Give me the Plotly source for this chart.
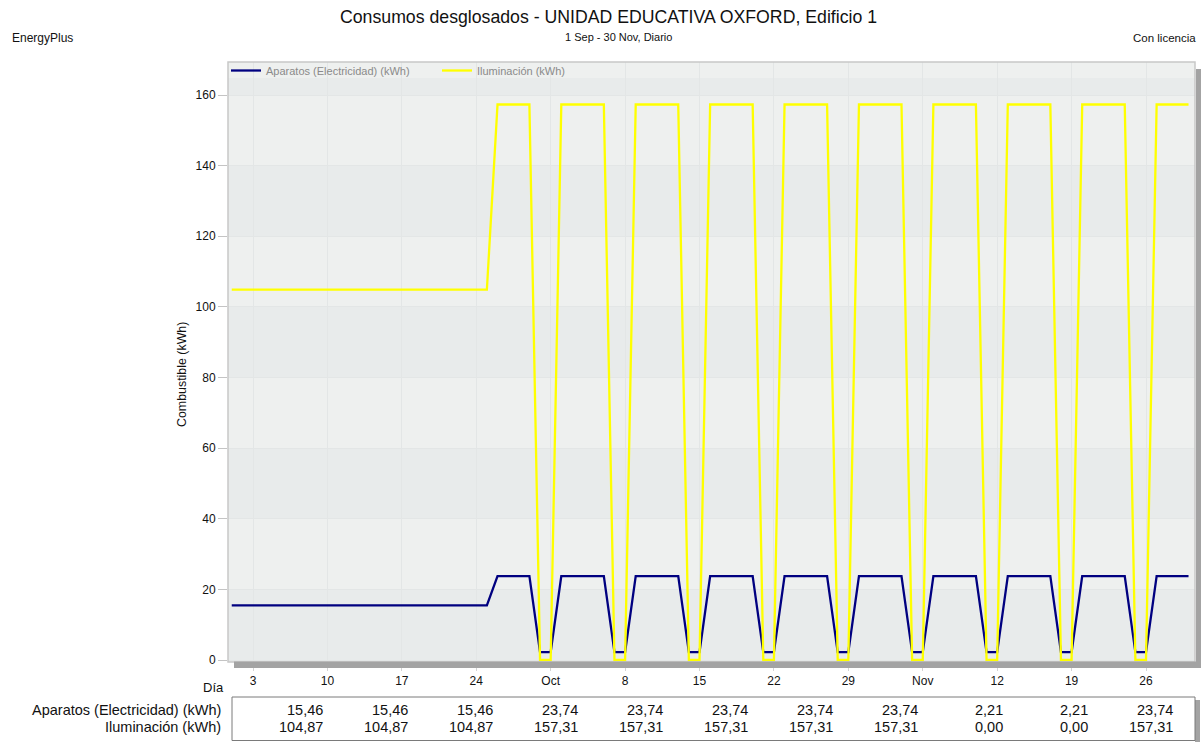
import pandas as pd
import plotly.graph_objects as go

# ---------------- data ----------------
fechas = pd.date_range("2017-09-01", "2017-11-30", freq="D")

aparatos = [
    # 1 - 25 Sep
    15.46, 15.46, 15.46, 15.46, 15.46,
    15.46, 15.46, 15.46, 15.46, 15.46,
    15.46, 15.46, 15.46, 15.46, 15.46,
    15.46, 15.46, 15.46, 15.46, 15.46,
    15.46, 15.46, 15.46, 15.46, 15.46,
    # 26 Sep - 1 Oct
    23.74, 23.74, 23.74, 23.74, 2.21, 2.21,
    # 2 - 8 Oct
    23.74, 23.74, 23.74, 23.74, 23.74, 2.21, 2.21,
    # 9 - 15 Oct
    23.74, 23.74, 23.74, 23.74, 23.74, 2.21, 2.21,
    # 16 - 22 Oct
    23.74, 23.74, 23.74, 23.74, 23.74, 2.21, 2.21,
    # 23 - 29 Oct
    23.74, 23.74, 23.74, 23.74, 23.74, 2.21, 2.21,
    # 30 Oct - 5 Nov
    23.74, 23.74, 23.74, 23.74, 23.74, 2.21, 2.21,
    # 6 - 12 Nov
    23.74, 23.74, 23.74, 23.74, 23.74, 2.21, 2.21,
    # 13 - 19 Nov
    23.74, 23.74, 23.74, 23.74, 23.74, 2.21, 2.21,
    # 20 - 26 Nov
    23.74, 23.74, 23.74, 23.74, 23.74, 2.21, 2.21,
    # 27 - 30 Nov
    23.74, 23.74, 23.74, 23.74,
]

iluminacion = [
    # 1 - 25 Sep
    104.87, 104.87, 104.87, 104.87, 104.87,
    104.87, 104.87, 104.87, 104.87, 104.87,
    104.87, 104.87, 104.87, 104.87, 104.87,
    104.87, 104.87, 104.87, 104.87, 104.87,
    104.87, 104.87, 104.87, 104.87, 104.87,
    # 26 Sep - 1 Oct
    157.31, 157.31, 157.31, 157.31, 0.00, 0.00,
    # 2 - 8 Oct
    157.31, 157.31, 157.31, 157.31, 157.31, 0.00, 0.00,
    # 9 - 15 Oct
    157.31, 157.31, 157.31, 157.31, 157.31, 0.00, 0.00,
    # 16 - 22 Oct
    157.31, 157.31, 157.31, 157.31, 157.31, 0.00, 0.00,
    # 23 - 29 Oct
    157.31, 157.31, 157.31, 157.31, 157.31, 0.00, 0.00,
    # 30 Oct - 5 Nov
    157.31, 157.31, 157.31, 157.31, 157.31, 0.00, 0.00,
    # 6 - 12 Nov
    157.31, 157.31, 157.31, 157.31, 157.31, 0.00, 0.00,
    # 13 - 19 Nov
    157.31, 157.31, 157.31, 157.31, 157.31, 0.00, 0.00,
    # 20 - 26 Nov
    157.31, 157.31, 157.31, 157.31, 157.31, 0.00, 0.00,
    # 27 - 30 Nov
    157.31, 157.31, 157.31, 157.31,
]

tick_fechas = ["2017-09-03", "2017-09-10", "2017-09-17", "2017-09-24",
               "2017-10-01", "2017-10-08", "2017-10-15", "2017-10-22",
               "2017-10-29", "2017-11-05", "2017-11-12", "2017-11-19",
               "2017-11-26"]
tick_textos = ["3", "10", "17", "24", "Oct", "8", "15", "22", "29",
               "Nov", "12", "19", "26"]

y_ticks = [0, 20, 40, 60, 80, 100, 120, 140, 160]

tabla_aparatos = [15.46, 15.46, 15.46, 23.74, 23.74, 23.74, 23.74, 23.74,
                  2.21, 2.21, 23.74]
tabla_iluminacion = [104.87, 104.87, 104.87, 157.31, 157.31, 157.31, 157.31,
                     157.31, 0.00, 0.00, 157.31]

nombre_ap = "Aparatos (Electricidad) (kWh)"
nombre_il = "Iluminación (kWh)"

# ---------------- layout geometry ----------------
W, H = 1201, 742
L, R, T, B = 228, 1195, 62, 662
FONT = "Liberation Sans, Arial, sans-serif"


def pxx(x):
    return (x - L) / (R - L)


def pxy(y):
    return (B - y) / (B - T)


px_per_day = 10.631
x0_px = 231.74
x_start = pd.Timestamp("2017-09-01") - pd.Timedelta(days=(x0_px - L) / px_per_day)
x_end = x_start + pd.Timedelta(days=(R - L) / px_per_day)

px_per_unit = (660 - 95) / 160.0
y_lo = -(B - 660) / px_per_unit
y_hi = (660 - T) / px_per_unit

fig = go.Figure()
fig.add_trace(go.Scatter(x=fechas, y=aparatos, mode="lines", name=nombre_ap,
                         line=dict(color="#000080", width=2.3)))
fig.add_trace(go.Scatter(x=fechas, y=iluminacion, mode="lines", name=nombre_il,
                         line=dict(color="#FFFF00", width=2.3)))

shapes = []
# alternating horizontal bands
dark = "#E8EBEB"
for lo in [0, 40, 80, 120]:
    shapes.append(dict(type="rect", xref="paper", yref="y", x0=0, x1=1,
                       y0=lo, y1=lo + 20, fillcolor=dark, line_width=0,
                       layer="below"))
shapes.append(dict(type="rect", xref="paper", yref="paper", x0=0, x1=1,
                   y0=pxy(95), y1=pxy(78), fillcolor=dark, line_width=0,
                   layer="below"))
shapes.append(dict(type="rect", xref="paper", yref="paper", x0=0, x1=1,
                   y0=pxy(660.5), y1=pxy(B), fillcolor=dark, line_width=0,
                   layer="below"))
# plot border
shapes.append(dict(type="rect", xref="paper", yref="paper", x0=0, x1=1,
                   y0=0, y1=1, line=dict(color="#C8C8C8", width=1.5),
                   fillcolor="rgba(0,0,0,0)", layer="above"))
# bottom floor band and right shadow
shapes.append(dict(type="rect", xref="paper", yref="paper", x0=pxx(234),
                   x1=pxx(1201), y0=pxy(668), y1=pxy(661.5),
                   fillcolor="#A3A3A3", line_width=0, layer="above"))
shapes.append(dict(type="rect", xref="paper", yref="paper", x0=pxx(1196),
                   x1=pxx(1201), y0=pxy(668), y1=pxy(69),
                   fillcolor="#A3A3A3", line_width=0, layer="above"))
# table box + shadow
shapes.append(dict(type="rect", xref="paper", yref="paper", x0=pxx(1195),
                   x1=pxx(1200), y0=pxy(742), y1=pxy(700),
                   fillcolor="#A3A3A3", line_width=0, layer="above"))
shapes.append(dict(type="rect", xref="paper", yref="paper", x0=pxx(232),
                   x1=pxx(1195), y0=pxy(740.5), y1=pxy(697),
                   fillcolor="white", line=dict(color="#7A7A7A", width=1),
                   layer="above"))

annotations = []


def txt(text, x, y, size, xanchor="center", color="#111111", angle=0):
    annotations.append(dict(text=text, xref="paper", yref="paper",
                            x=pxx(x), y=pxy(y), xanchor=xanchor,
                            yanchor="middle", showarrow=False,
                            textangle=angle,
                            font=dict(family=FONT, size=size, color=color)))


txt("Consumos desglosados - UNIDAD EDUCATIVA OXFORD, Edificio 1", 608, 17, 17.7)
txt("1 Sep - 30 Nov, Diario", 618, 37, 11)
txt("EnergyPlus", 10, 38, 12, xanchor="left")
txt("Con licencia", 1131, 38, 11.5, xanchor="left")
txt("Combustible (kWh)", 182, 375, 12.4, angle=-90)
txt("Día", 226, 687, 13, xanchor="right")

# table
txt(nombre_ap, 223, 710, 14.5, xanchor="right")
txt(nombre_il, 223, 727, 14.5, xanchor="right")
for k, (a, i) in enumerate(zip(tabla_aparatos, tabla_iluminacion)):
    xr = 325 + 85 * k
    txt(f"{a:.2f}".replace(".", ","), xr, 710, 14.5, xanchor="right")
    txt(f"{i:.2f}".replace(".", ","), xr, 727, 14.5, xanchor="right")

fig.update_layout(
    width=W, height=H,
    margin=dict(l=L, r=W - R, t=T, b=H - B, pad=0),
    paper_bgcolor="white",
    plot_bgcolor="#EEF0EF",
    font=dict(family=FONT, size=12, color="#111111"),
    showlegend=True,
    hovermode=False,
    legend=dict(orientation="h", x=pxx(226), y=pxy(56), xanchor="left",
                yanchor="top", bgcolor="rgba(0,0,0,0)",
                font=dict(family=FONT, size=11, color="#8A8A8A"),
                itemwidth=30, entrywidth=166, entrywidthmode="pixels",
                tracegroupgap=0),
    shapes=shapes,
    annotations=annotations,
    xaxis=dict(type="date", range=[x_start, x_end], tickmode="array",
               tickvals=tick_fechas, ticktext=tick_textos, showgrid=True,
               gridcolor="#E3E6E6", gridwidth=1, ticks="outside", ticklen=8,
               tickcolor="#D4D4D4", showline=False, zeroline=False,
               tickfont=dict(family=FONT, size=12, color="#111111")),
    yaxis=dict(range=[y_lo, y_hi], tickmode="array", tickvals=y_ticks,
               showgrid=True, gridcolor="#E3E6E6", gridwidth=1,
               ticks="outside", ticklen=9, tickcolor="#C4C4C4",
               showline=False, zeroline=False,
               tickfont=dict(family=FONT, size=12, color="#111111")),
)

fig.write_html("out.html",
               config={"displayModeBar": False},
               post_script="document.body.style.margin='0';"
                           "document.body.style.overflow='hidden';")
